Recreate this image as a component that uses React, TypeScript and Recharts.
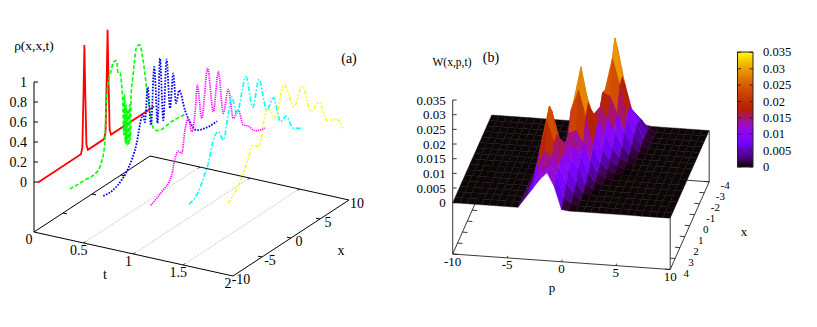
import { ComposedChart, Line, ReferenceArea, Scatter, XAxis, YAxis } from 'recharts';

const WIDTH = 817;
const HEIGHT = 327;
const FONT = '"Liberation Serif", "Times New Roman", serif';

// panel (a): one slice of rho(x,x,t) per time
const redT = 0.02;
const redX = [-10, -2.6, -2.35, -2.15, -2, -1.85, -1.65, -1.4, 1.4, 1.65, 1.85, 2, 2.15, 2.35, 2.6, 10];
const redRho = [0, 0, 0.06, 0.6, 1.07, 0.6, 0.06, 0, 0, 0.06, 0.6, 1.07, 0.6, 0.06, 0, 0];

const greenT = 0.36;
const greenX = [-10, -7.41, -5.12, -4.53, -3.97, -3.79, -3.4, -2.98, -2.41, -1.95, -1.67, -1.38, -1.09, -0.86, -0.69, -0.57, -0.43, -0.29, -0.17, 0, 0.17, 0.29, 0.43, 0.57, 0.81, 1.09, 1.5, 2.07, 2.53, 2.93, 3.4, 3.79, 4.08, 4.66, 5.22, 7.53, 10];
const greenRho = [0.01, 0, 0.01, 0.075, 0.237, 0.534, 0.816, 0.903, 0.995, 0.987, 0.851, 0.843, 0.731, 0.523, 0.196, 0.592, 0.106, 0.481, 0.077, 0.42, 0.064, 0.459, 0.104, 0.549, 0.69, 0.829, 0.996, 0.992, 0.857, 0.679, 0.424, 0.276, 0.148, 0.043, 0.015, 0.017, 0];

const blueT = 0.693;
const blueX = [-9.95, -8.28, -6.78, -5.64, -4.19, -3.33, -3.1, -2.76, -2.29, -1.72, -1.16, -0.57, -0.17, 0.4, 0.98, 1.55, 2.12, 2.59, 3.16, 4.14, 5, 6.16, 8.1, 9.66];
const blueRho = [0.011, 0.005, 0.05, 0.124, 0.319, 0.547, 0.568, 0.475, 0.807, 0.406, 0.967, 0.382, 1.014, 0.375, 0.96, 0.451, 0.777, 0.462, 0.57, 0.333, 0.183, 0.056, 0.015, 0.013];

const magentaT = 1.166;
const magentaX = [-9.88, -7.98, -6.26, -5.69, -5.12, -4.53, -3.97, -3.4, -2.81, -2.24, -1.84, -1.09, -0.05, 0.91, 1.78, 2.64, 3.5, 4.36, 5.22, 6.09, 6.95, 8.1, 9.83];
const magentaRho = [0.02, 0.082, 0.184, 0.329, 0.38, 0.335, 0.547, 0.642, 0.486, 0.651, 0.916, 0.554, 1.015, 0.544, 0.912, 0.463, 0.67, 0.347, 0.398, 0.215, 0.172, 0.081, 0.04];

const cyanT = 1.548;
const cyanX = [-9.83, -8.22, -7.36, -6.5, -5.64, -4.78, -3.91, -3.05, -2.47, -1.6, 0, 1.16, 2.24, 3.57, 4.71, 5.98, 6.9, 8.16, 9.88];
const cyanRho = [0.113, 0.176, 0.277, 0.394, 0.594, 0.645, 0.529, 0.763, 0.907, 0.708, 1.013, 0.663, 0.902, 0.545, 0.624, 0.336, 0.358, 0.187, 0.122];

const yellowT = 1.94;
const yellowX = [-9.78, -7.76, -6.33, -5.57, -4.43, -3.62, -2.88, -1.72, -0.17, 1.55, 2.98, 4.48, 5.86, 7.29, 8.91, 9.95];
const yellowRho = [0.205, 0.345, 0.524, 0.619, 0.575, 0.805, 0.893, 0.75, 1.024, 0.741, 0.894, 0.58, 0.621, 0.383, 0.336, 0.206];

const rhoTicks = [0, 0.2, 0.4, 0.6, 0.8, 1];
const tTicks = [0, 0.5, 1, 1.5, 2];
const xTicksA = [-10, -5, 0, 5, 10];

// panel (b): W(x,p) in units of 0.001, rows run from x=-4 (back) to x=4 (front)
const pGrid = [-10, -9.33, -8.67, -8, -7.33, -6.67, -6, -5.33, -4.67, -4, -3.33, -2.67, -2, -1.33, -0.67, 0, 0.67, 1.33, 2, 2.67, 3.33, 4, 4.67, 5.33, 6, 6.67, 7.33, 8, 8.67, 9.33, 10];
const xGrid = [-4, -3.5, -3, -2.5, -2, -1.5, -1, -0.5, 0, 0.5, 1, 1.5, 2, 2.5, 3, 3.5, 4];
const ridgeFirstColumn = 8; // pGrid index of p=-4.67
const ridgeRows = [
  [0, 0, 0, 0, 0, 0, 0, 0, 0, 0, 2, 4, 3, 0.5, 0],
  [0, 0, 0, 0, 0, 0, 0, 0, 0, 0, 13, 9, 6.4, 3.9, 1],
  [0, 0, 0, 0, 0, 0, 0, 0, 0, 5, 30, 18, 9, 5.5, 1.5],
  [0, 0, 0, 0, 0, 0, 0, 0, 0, 12, 35, 22, 12, 6, 1.5],
  [0, 0, 0, 0, 0, 0, 0, 0, 0, 19, 30, 21, 10, 4.5, 1],
  [0, 0, 0, 0, 0, 0, 0, 0.5, 4, 20, 19, 13, 7, 2.5, 0.4],
  [0, 0, 0, 0, 0, 0, 1, 5, 14, 17, 13, 9, 4, 1.2, 0],
  [0, 0, 0, 0, 0, 0, 12, 26, 18, 14, 10, 5, 2, 0.5, 0],
  [0, 0, 0, 0, 0.5, 1, 22, 34, 22, 12, 6, 3, 1, 0.1, 0],
  [0, 0, 0, 1, 3, 3.5, 21, 28, 19, 9, 3.5, 1.5, 0.3, 0, 0],
  [0, 0, 0.5, 5, 13, 8, 15, 16, 12, 6, 2, 0.5, 0, 0, 0],
  [0, 0, 1.5, 14, 24, 15, 13, 12, 10, 3.5, 0.8, 0, 0, 0, 0],
  [0, 0, 2.5, 16, 27.6, 18, 12, 10, 7, 1.7, 0.2, 0, 0, 0, 0],
  [0, 0, 3, 14, 24, 17, 11.5, 8, 4, 0.6, 0, 0, 0, 0, 0],
  [0, 0, 3, 9, 16, 14, 11, 5.5, 2, 0, 0, 0, 0, 0, 0],
  [0, 0, 3, 7.5, 11, 13.5, 10, 2.5, 0.7, 0, 0, 0, 0, 0, 0],
  [0, 0, 3.4, 6.6, 10, 12.5, 8, 0.3, 0, 0, 0, 0, 0, 0, 0],
];

const zTicksB = [0, 0.005, 0.01, 0.015, 0.02, 0.025, 0.03, 0.035];
const pTicks = [-10, -5, 0, 5, 10];
const xTicksB = [-4, -3, -2, -1, 0, 1, 2, 3, 4];

// gnuplot draws a fixed 3d view, so both panels are projected by hand onto the chart's flat axes
const projectA = (t: number, x: number, rho: number) => ({
  sx: 34 + 99.5 * t + 5.8 * (x + 10),
  sy: 182 + 22 * t - 3.8 * (x + 10) - 100 * rho,
});
const floorA = (t: number, x: number) => ({ sx: projectA(t, x, 0).sx, sy: projectA(t, x, 0).sy + 50 });

const projectB = (p: number, x: number, w: number) => ({
  sx: 452.7 + 10.875 * (p + 10) + 4.875 * (4 - x),
  sy: 202.7 + 0.775 * (p + 10) - 10.96 * (4 - x) - 2.934 * w,
});
const floorB = (p: number, x: number) => ({ sx: projectB(p, x, 0).sx, sy: projectB(p, x, 0).sy + 51.3 });

const slice = (t: number, xs: number[], rhos: number[]) => xs.map((x, i) => projectA(t, x, rhos[i]));

// line pieces separated by gaps
type Pt = { sx: number; sy: number | null };
const pieces = (list: Pt[][]) => list.flatMap((seg) => [...seg, { sx: seg[seg.length - 1].sx, sy: null }]);
const nudge = (pt: Pt, dx: number, dy: number) => ({ sx: pt.sx + dx, sy: (pt.sy as number) + dy });

function palette(w: number) {
  const g = Math.max(0, Math.min(1, w / 35));
  const r = Math.sqrt(g);
  const gr = g * g * g;
  const b = Math.max(0, Math.sin(2 * Math.PI * g));
  return `rgb(${Math.round(r * 255)},${Math.round(gr * 255)},${Math.round(b * 255)})`;
}

const wAt = (row: number, col: number) => {
  const k = col - ridgeFirstColumn;
  return k >= 0 && k < ridgeRows[row].length ? ridgeRows[row][k] : 0;
};

const quads = xGrid.slice(0, -1).flatMap((x, row) =>
  pGrid.slice(0, -1).map((p, col) => {
    const nextX = xGrid[row + 1];
    const nextP = pGrid[col + 1];
    const w = [wAt(row, col), wAt(row, col + 1), wAt(row + 1, col + 1), wAt(row + 1, col)];
    const a = projectB(p, x, w[0]);
    const corners = [a, projectB(nextP, x, w[1]), projectB(nextP, nextX, w[2]), projectB(p, nextX, w[3])];
    const mean = (w[0] + w[1] + w[2] + w[3]) / 4;
    return {
      sx: a.sx,
      sy: a.sy,
      offsets: corners.map((c) => `${c.sx - a.sx},${c.sy - a.sy}`).join(' '),
      shade: 0.7 * mean + 0.3 * Math.max(...w),
    };
  }),
);

function Quad(props: any) {
  const { cx, cy, payload } = props;
  const flat = payload.shade === 0;
  const fill = flat ? '#0d0607' : palette(payload.shade);
  return (
    <polygon
      transform={`translate(${cx},${cy})`}
      points={payload.offsets}
      fill={fill}
      stroke={flat ? '#150c0e' : fill}
      strokeWidth={flat ? 0.4 : 0.5}
      strokeLinejoin="round"
    />
  );
}

function Label(props: any) {
  const { cx, cy, payload } = props;
  return (
    <text
      x={cx}
      y={cy}
      textAnchor={payload.anchor ?? 'middle'}
      dominantBaseline="central"
      fontFamily={FONT}
      fontSize={payload.size ?? 14}
      fill="#000"
    >
      {payload.text}
    </text>
  );
}

const at = (pt: { sx: number; sy: number }, dx: number, dy: number) => ({ sx: pt.sx + dx, sy: pt.sy + dy });

const labels = [
  ...rhoTicks.map((r) => ({ ...at(projectA(0, -10, r), -7, 0), text: String(r), anchor: 'end' })),
  ...tTicks.map((t) => ({ ...at(floorA(t, -10), -5, 7), text: String(t) })),
  ...xTicksA.map((x) => ({ ...at(floorA(2, x), 8, 3), text: String(x) })),
  { sx: 34, sy: 45, text: 'ρ(x,x,t)', size: 13.5 },
  { sx: 105, sy: 274, text: 't' },
  { sx: 341, sy: 250, text: 'x' },
  { sx: 349, sy: 58, text: '(a)' },
  ...zTicksB.map((z) => ({ ...at(projectB(-10, 4, z * 1000), -7, 0), text: String(z), anchor: 'end', size: 13 })),
  ...pTicks.map((p) => ({ ...at(floorB(p, 4), 0, 7), text: String(p), size: 13 })),
  ...xTicksB.map((x) => ({ ...at(floorB(10, x), 16, 3), text: String(x), size: 11 })),
  { sx: 452, sy: 62, text: 'W(x,p,t)', size: 11.5 },
  { sx: 491, sy: 57, text: '(b)', size: 14 },
  { sx: 552, sy: 287, text: 'p', size: 13 },
  { sx: 744, sy: 231, text: 'x', size: 13 },
  ...zTicksB.map((z) => ({ sx: 763, sy: 167 - (z / 0.035) * 114.6, text: String(z), anchor: 'start', size: 12.5 })),
];

const axisA = pieces([
  [projectA(0, -10, 1), floorA(0, -10)],
  [floorA(0, -10), floorA(2, -10), floorA(2, 10), floorA(0, 10), floorA(0, -10)],
  ...rhoTicks.map((r) => [projectA(0, -10, r), nudge(projectA(0, -10, r), 4, 0)]),
  ...tTicks.slice(1, -1).flatMap((t) => [
    [floorA(t, -10), nudge(floorA(t, -10), 1.5, -1.5)],
    [floorA(t, 10), nudge(floorA(t, 10), -1.5, 1.5)],
  ]),
  ...xTicksA.slice(1, -1).flatMap((x) => [
    [floorA(0, x), nudge(floorA(0, x), 4, 0.8)],
    [floorA(2, x), nudge(floorA(2, x), -4, -0.8)],
  ]),
]);
const gridA = pieces(tTicks.slice(1, -1).map((t) => [floorA(t, -10), floorA(t, 10)]));

const backB = pieces([
  [floorB(-10, 4), floorB(-10, -4), floorB(10, -4)],
  [projectB(10, -4, 0), floorB(10, -4)],
  ...xTicksB.map((x) => [floorB(-10, x), nudge(floorB(-10, x), 5, 0.4)]),
]);
const frontB = pieces([
  [projectB(-10, 4, 35), floorB(-10, 4)],
  [floorB(-10, 4), floorB(10, 4), floorB(10, -4)],
  [projectB(10, 4, 0), floorB(10, 4)],
  ...zTicksB.map((z) => [projectB(-10, 4, z * 1000), nudge(projectB(-10, 4, z * 1000), 4, 0)]),
  ...pTicks.slice(1, -1).map((p) => [floorB(p, 4), nudge(floorB(p, 4), 0.9, -2)]),
  ...xTicksB.map((x) => [floorB(10, x), nudge(floorB(10, x), -5, -0.4)]),
  ...zTicksB.flatMap((z) => {
    const y = 167 - (z / 0.035) * 114.6;
    return [
      [{ sx: 737.5, sy: y }, { sx: 741, sy: y }],
      [{ sx: 749.5, sy: y }, { sx: 753, sy: y }],
    ];
  }),
]);

const paletteStops = [0, 0.05, 0.1, 0.15, 0.2, 0.25, 0.3, 0.35, 0.4, 0.45, 0.5, 0.55, 0.6, 0.65, 0.7, 0.75, 0.8, 0.85, 0.9, 0.95, 1];

const curves = [
  { name: 'red', data: slice(redT, redX, redRho).map((d) => at(d, 2, 0)), color: '#ff0000', dash: undefined, width: 1.8, kind: 'linear' },
  { name: 'green', data: slice(greenT, greenX, greenRho), color: '#00ff00', dash: '4 2', width: 1.6, kind: 'monotone' },
  { name: 'blue', data: slice(blueT, blueX, blueRho), color: '#0000ff', dash: '1.6 1.4', width: 1.8, kind: 'monotone' },
  { name: 'magenta', data: slice(magentaT, magentaX, magentaRho), color: '#ff00ff', dash: '1.2 1', width: 1.7, kind: 'monotone' },
  { name: 'cyan', data: slice(cyanT, cyanX, cyanRho), color: '#00ffff', dash: '5 2 1.5 2', width: 1.6, kind: 'monotone' },
  { name: 'yellow', data: slice(yellowT, yellowX, yellowRho), color: '#ffff00', dash: '4 2 1.5 2 1.5 2', width: 1.6, kind: 'monotone' },
];

export default function App() {
  return (
    <div style={{ position: 'absolute', left: 0, top: 0, width: WIDTH, height: HEIGHT, background: '#fff' }}>
      <ComposedChart width={WIDTH} height={HEIGHT} margin={{ top: 0, right: 0, bottom: 0, left: 0 }}>
        <defs>
          <linearGradient id="wPalette" x1="0" y1="1" x2="0" y2="0">
            {paletteStops.map((s) => (
              <stop key={s} offset={s} stopColor={palette(s * 35)} />
            ))}
          </linearGradient>
        </defs>
        <XAxis type="number" dataKey="sx" domain={[0, WIDTH]} hide />
        <YAxis type="number" dataKey="sy" domain={[0, HEIGHT]} reversed hide />

        <Line data={gridA} dataKey="sy" stroke="#aaaaaa" strokeWidth={0.8} strokeDasharray="1 1" dot={false} activeDot={false} isAnimationActive={false} />
        <Line data={axisA} dataKey="sy" stroke="#000" strokeWidth={1} dot={false} activeDot={false} isAnimationActive={false} />
        {curves.map((c) => (
          <Line
            key={c.name}
            data={c.data}
            dataKey="sy"
            type={c.kind as any}
            stroke={c.color}
            strokeWidth={c.width}
            strokeDasharray={c.dash}
            dot={false}
            activeDot={false}
            isAnimationActive={false}
          />
        ))}

        <Line data={backB} dataKey="sy" stroke="#222" strokeWidth={0.9} dot={false} activeDot={false} isAnimationActive={false} />
        <Scatter data={quads} dataKey="sy" shape={Quad} isAnimationActive={false} />
        <Line data={frontB} dataKey="sy" stroke="#222" strokeWidth={0.9} dot={false} activeDot={false} isAnimationActive={false} />

        <ReferenceArea x1={737.5} x2={753} y1={52} y2={167} fill="url(#wPalette)" fillOpacity={1} stroke="#222" strokeWidth={1} />
        <Scatter data={labels} dataKey="sy" shape={Label} isAnimationActive={false} />
      </ComposedChart>
    </div>
  );
}
